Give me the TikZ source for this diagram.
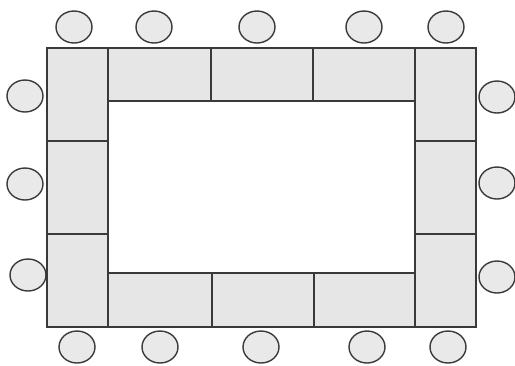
\documentclass[tikz,border=0pt]{standalone}
\usetikzlibrary{shapes.geometric}
\definecolor{tablefill}{HTML}{E6E6E6}
\definecolor{chairfill}{HTML}{E9E9E9}
\definecolor{edge}{HTML}{3A3A3A}
\begin{document}
\begin{tikzpicture}[x=1pt,y=-1pt,
  tbl/.style={rectangle,draw=edge,fill=tablefill,line width=1.4pt,inner sep=0pt,outer sep=0pt},
  chair/.style={ellipse,draw=edge,fill=chairfill,line width=1.4pt,inner sep=0pt,minimum width=36pt,minimum height=32pt}]
\useasboundingbox (0,0) rectangle (515,365);
% left column
\node[tbl,minimum width=61pt,minimum height=93pt] (L1) at (77.5,94.5) {};
\node[tbl,minimum width=61pt,minimum height=93pt] (L2) at (77.5,187.5) {};
\node[tbl,minimum width=61pt,minimum height=93pt] (L3) at (77.5,280.5) {};
% right column
\node[tbl,minimum width=61pt,minimum height=93pt] (R1) at (445.5,94.5) {};
\node[tbl,minimum width=61pt,minimum height=93pt] (R2) at (445.5,187.5) {};
\node[tbl,minimum width=61pt,minimum height=93pt] (R3) at (445.5,280.5) {};
% top row
\node[tbl,minimum width=103pt,minimum height=53pt] (T1) at (159.5,74.5) {};
\node[tbl,minimum width=102pt,minimum height=53pt] (T2) at (262,74.5) {};
\node[tbl,minimum width=102pt,minimum height=53pt] (T3) at (364,74.5) {};
% bottom row
\node[tbl,minimum width=104pt,minimum height=54pt] (B1) at (160,300) {};
\node[tbl,minimum width=102pt,minimum height=54pt] (B2) at (263,300) {};
\node[tbl,minimum width=101pt,minimum height=54pt] (B3) at (364.5,300) {};
% chairs top
\node[chair] (ct1) at (74,27) {};
\node[chair] (ct2) at (154,27) {};
\node[chair] (ct3) at (257,27) {};
\node[chair] (ct4) at (364,27) {};
\node[chair] (ct5) at (446,27) {};
% chairs bottom
\node[chair] (cb1) at (77,347) {};
\node[chair] (cb2) at (160,347) {};
\node[chair] (cb3) at (261,347) {};
\node[chair] (cb4) at (367,347) {};
\node[chair] (cb5) at (448,347) {};
% chairs left
\node[chair] (cl1) at (25,96) {};
\node[chair] (cl2) at (25,184) {};
\node[chair] (cl3) at (28,275) {};
% chairs right
\node[chair] (cr1) at (497,97) {};
\node[chair] (cr2) at (497,183) {};
\node[chair] (cr3) at (497,277) {};
\end{tikzpicture}
\end{document}
